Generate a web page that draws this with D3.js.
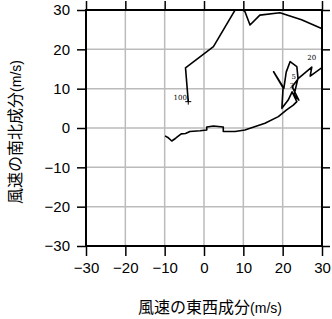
<!DOCTYPE html>
<html>
<head>
<meta charset="utf-8">
<script src="https://cdn.jsdelivr.net/npm/d3@7"></script>
<style>
body { margin: 0; background: #fff; }
svg { display: block; }
</style>
</head>
<body>
<svg width="332" height="319"></svg>
<script>
// hodograph trace (u, v) in m/s, from the surface up
const u = [-9.9, -9.2, -8.2, -7.2, -5.8, -4.7, -3.6, -1.0, 0.7, 0.7, 2.4, 4.9, 4.9, 7.9,
  10.4, 15.5, 18.9, 21.0, 22.7, 23.6,
  22.4, 21.4, 19.8, 20.1, 17.7, 20.3, 20.9, 21.9, 23.6, 23.9, 22.9, 24.1, 22.4,
  24.0, 27.4, 27.0, 29.9, 31.5, 31.5, 29.9, 24.8, 19.3, 14.2, 11.7, 10.4, 8.5,
  2.4, -4.7, -4.0];
const v = [-2.0, -2.4, -3.3, -2.6, -1.5, -1.4, -0.9, -0.7, -0.5, 0.25, 0.5, 0.25, -0.9, -0.9,
  -0.5, 1.2, 2.9, 4.6, 5.8, 6.7,
  9.2, 7.1, 5.0, 10.2, 14.3, 10.1, 14.2, 16.9, 15.6, 12.7, 8.4, 7.1, 10.5,
  12.6, 15.5, 13.2, 15.3, 17.0, 24.0, 25.3, 27.5, 29.3, 28.7, 26.2, 29.6, 31.0,
  20.7, 15.3, 6.7];
const ticks = [-30, -20, -10, 0, 10, 20, 30];
const levelLabels = [
  {i: 48, text: "100", dx: -8, dy: -2},
  {i: 34, text: "20", dx: 0, dy: -7},
  {i: 28, text: "5", dx: -3, dy: 12},
  {i: 29, text: "3", dx: -6, dy: 10}
];

const ml = 86, mt = 10, size = 236;
const svg = d3.select("svg");
const font = "'Liberation Sans', 'Noto Sans CJK JP', sans-serif";

const x = d3.scaleLinear().domain([-30, 30]).range([ml, ml + size]);
const y = d3.scaleLinear().domain([-30, 30]).range([mt + size, mt]);

// grid
svg.append("g")
  .selectAll("line").data(ticks.slice(1, -1)).join("line")
  .attr("x1", d => x(d)).attr("x2", d => x(d))
  .attr("y1", mt).attr("y2", mt + size)
  .attr("stroke", "#bbb").attr("stroke-width", 1.5);
svg.append("g")
  .selectAll("line").data(ticks.slice(1, -1)).join("line")
  .attr("y1", d => y(d)).attr("y2", d => y(d))
  .attr("x1", ml).attr("x2", ml + size)
  .attr("stroke", "#bbb").attr("stroke-width", 1.5);

// trace
svg.append("clipPath").attr("id", "clip")
  .append("rect").attr("x", ml).attr("y", mt).attr("width", size).attr("height", size);

const pts = u.map((d, i) => [d, v[i]]);
svg.append("path")
  .datum(pts)
  .attr("clip-path", "url(#clip)")
  .attr("fill", "none")
  .attr("stroke", "#000")
  .attr("stroke-width", 1.6)
  .attr("stroke-linejoin", "round")
  .attr("d", d3.line().x(d => x(d[0])).y(d => y(d[1])));

// end marker
const last = pts[pts.length - 1];
svg.append("path")
  .attr("d", `M${x(last[0]) - 3},${y(last[1])}h6M${x(last[0])},${y(last[1]) - 3}v6`)
  .attr("stroke", "#000").attr("stroke-width", 1);

svg.append("g")
  .selectAll("text").data(levelLabels).join("text")
  .attr("x", d => x(u[d.i]) + d.dx)
  .attr("y", d => y(v[d.i]) + d.dy)
  .attr("text-anchor", "middle")
  .attr("font-family", "'DejaVu Serif', serif")
  .attr("font-size", 7)
  .attr("fill", "#000")
  .text(d => d.text);

// axes
const axisStyle = g => {
  g.select(".domain").remove();
  g.selectAll("line").attr("stroke", "#000").attr("stroke-width", 1.5);
  g.selectAll("text").attr("font-family", font).attr("font-size", 15).attr("fill", "#000");
};
svg.append("g").attr("transform", `translate(0,${mt + size})`)
  .call(d3.axisBottom(x).tickValues(ticks).tickSize(10).tickPadding(6).tickFormat(d3.format("d")))
  .call(axisStyle);
svg.append("g").attr("transform", `translate(${ml},0)`)
  .call(d3.axisLeft(y).tickValues(ticks).tickSize(9).tickPadding(7).tickFormat(d3.format("d")))
  .call(axisStyle);
svg.append("g").attr("transform", `translate(0,${mt})`)
  .call(d3.axisTop(x).tickValues(ticks).tickSize(9).tickFormat(""))
  .call(axisStyle);
svg.append("g").attr("transform", `translate(${ml + size},0)`)
  .call(d3.axisRight(y).tickValues(ticks).tickSize(8).tickFormat(""))
  .call(axisStyle);

// frame
svg.append("rect")
  .attr("x", ml).attr("y", mt).attr("width", size).attr("height", size)
  .attr("fill", "none").attr("stroke", "#000").attr("stroke-width", 2);

// titles
const xt = svg.append("text")
  .attr("x", x(0) + 6).attr("y", 313)
  .attr("text-anchor", "middle")
  .attr("font-family", font).attr("font-size", 16);
xt.append("tspan").text("風速の東西成分");
xt.append("tspan").attr("font-size", 14).text("(m/s)");

const yt = svg.append("text")
  .attr("transform", `translate(21,${y(0) + 4}) rotate(-90)`)
  .attr("text-anchor", "middle")
  .attr("font-family", font).attr("font-size", 16);
yt.append("tspan").text("風速の南北成分");
yt.append("tspan").attr("font-size", 14).text("(m/s)");
</script>
</body>
</html>
